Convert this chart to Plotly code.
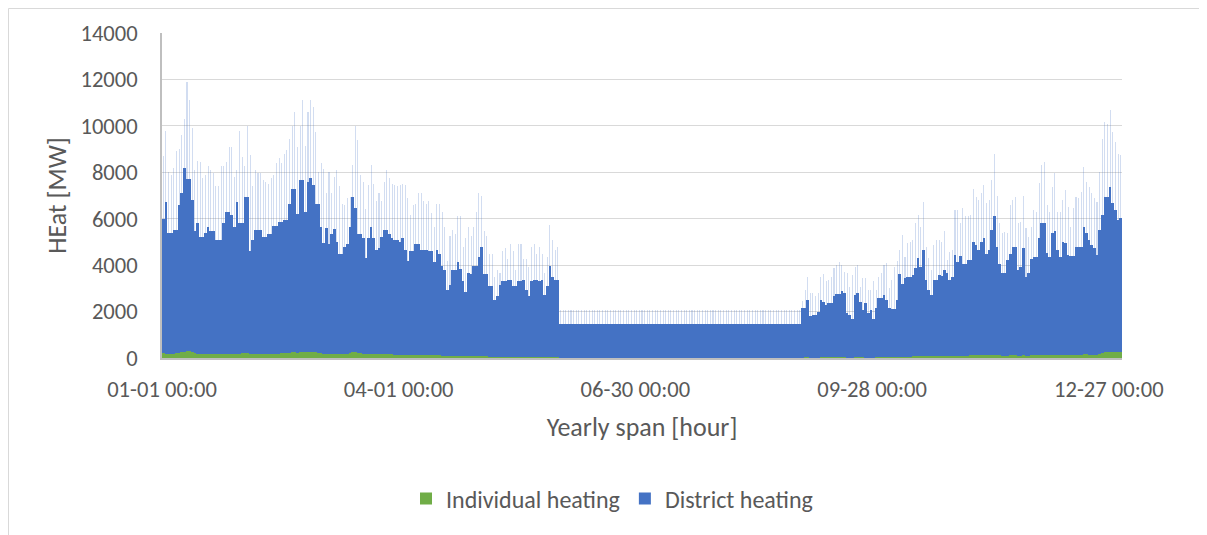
import plotly.graph_objects as go

# ---------------- data (MW, one value per day) ----------------
tick_days = [0, 90, 180, 270, 360]
tick_labels = ["01-01 00:00", "04-01 00:00", "06-30 00:00", "09-28 00:00", "12-27 00:00"]

# top of the stacked columns (individual + district)
stack_top = [
    6000, 6700, 5400, 5400, 5500, 5500, 6600, 7100, 8200, 7700,
    7700, 6800, 5450, 5800, 5200, 5200, 5400, 5650, 5450, 5450,
    5100, 5100, 5100, 5800, 6300, 6300, 6150, 5650, 6700, 5800,
    5800, 6950, 6950, 4600, 5100, 5500, 5500, 5500, 5200, 5200,
    5350, 5350, 5700, 5700, 5850, 5850, 5950, 5950, 6650, 7300,
    7300, 6200, 7650, 7650, 6300, 7600, 7750, 7450, 6650, 6650,
    5650, 4950, 5600, 4900, 5350, 5550, 5000, 4500, 4500, 4800,
    4900, 5650, 6950, 6450, 5350, 5350, 5150, 4300, 5150, 5650,
    5150, 4650, 4750, 5200, 5500, 5500, 5350, 5150, 5100, 5100,
    5000, 5150, 4650, 4200, 4600, 4600, 4900, 4900, 4650, 4650,
    4650, 4600, 4600, 4150, 4650, 4500, 3950, 3800, 2950, 3150,
    3800, 3800, 4150, 3850, 3300, 2850, 3650, 3600, 3950, 3950,
    4350, 4800, 3600, 3600, 3100, 3100, 2500, 2650, 3150, 3300,
    3300, 3350, 3350, 3100, 3100, 3300, 3300, 3350, 2950, 2650,
    3300, 3350, 3350, 3300, 3350, 2700, 3100, 3950, 3500, 3350,
    3350, 1450, 1450, 1450, 1450, 1450, 1450, 1450, 1450, 1450,
    1450, 1450, 1450, 1450, 1450, 1450, 1450, 1450, 1450, 1450,
    1450, 1450, 1450, 1450, 1450, 1450, 1450, 1450, 1450, 1450,
    1450, 1450, 1450, 1450, 1450, 1450, 1450, 1450, 1450, 1450,
    1450, 1450, 1450, 1450, 1450, 1450, 1450, 1450, 1450, 1450,
    1450, 1450, 1450, 1450, 1450, 1450, 1450, 1450, 1450, 1450,
    1450, 1450, 1450, 1450, 1450, 1450, 1450, 1450, 1450, 1450,
    1450, 1450, 1450, 1450, 1450, 1450, 1450, 1450, 1450, 1450,
    1450, 1450, 1450, 1450, 1450, 1450, 1450, 1450, 1450, 1450,
    1450, 1450, 1450, 2150, 2150, 2500, 1800, 1850, 1850, 1980,
    2480, 2400, 2300, 2350, 2350, 2650, 2750, 2750, 2900, 2800,
    1930, 1860, 1680, 2720, 2800, 2400, 2080, 2360, 1930, 2080,
    1680, 2150, 2580, 2580, 2720, 2500, 2150, 2100, 2100, 2500,
    3600, 3200, 3450, 3500, 3500, 3580, 3870, 4300, 3940, 4650,
    3370, 2940, 2720, 3370, 3370, 3580, 3540, 3770, 3650, 3370,
    3500, 4440, 4150, 4400, 4050, 4050, 4230, 4230, 5000, 4870,
    4660, 5000, 5160, 4500, 4660, 5500, 6100, 4800, 4050, 3680,
    3680, 4230, 4500, 4770, 4770, 3800, 3940, 4730, 3480, 3650,
    4250, 4370, 4370, 5160, 5800, 5800, 4540, 4370, 5370, 5490,
    4660, 4370, 5000, 4940, 4440, 4400, 4400, 4770, 4800, 4800,
    5660, 5370, 5090, 4870, 4730, 4440, 5500, 6160, 6950, 6950,
    7380, 6660, 6380, 5950, 6020,
]

# highest hourly value within each day (the pale dashes above the columns)
daily_peak = [
    8700, 9800, 8000, 7900, 8200, 8900, 9000, 9600, 10300, 11900,
    11100, 9900, 8100, 8500, 8450, 7750, 7900, 8250, 8100, 7950,
    7400, 7400, 8250, 8250, 8450, 9100, 9100, 7800, 8100, 9800,
    8650, 8250, 10000, 8750, 7400, 8100, 7950, 7950, 7650, 7600,
    7500, 7750, 7900, 8400, 8600, 8400, 8800, 8950, 9450, 10000,
    10600, 9100, 10000, 11100, 9150, 10600, 11100, 10800, 9750, 8000,
    8400, 8150, 7100, 8000, 7100, 7800, 8100, 7400, 6650, 6600,
    6900, 6950, 8300, 10000, 9400, 7900, 7600, 6400, 7450, 8300,
    7500, 6750, 7100, 6750, 7600, 8100, 7750, 7500, 7450, 7400,
    7450, 7500, 7450, 6900, 6150, 6600, 6650, 7100, 7100, 6750,
    6650, 6750, 6250, 5650, 6650, 6650, 6300, 5650, 4200, 5250,
    5500, 5350, 6100, 6100, 4800, 5150, 5650, 5250, 5650, 6300,
    7100, 7000, 5450, 5250, 4500, 4500, 3500, 3800, 3650, 4600,
    4750, 4250, 4900, 4600, 3800, 4900, 4900, 4250, 4250, 3900,
    4800, 4900, 4500, 4800, 4500, 3650, 4350, 5750, 5100, 4650,
    4800, 2080, 2080, 2080, 2080, 2080, 2080, 2080, 2080, 2080,
    2080, 2080, 2080, 2080, 2080, 2080, 2080, 2080, 2080, 2080,
    2080, 2080, 2080, 2080, 2080, 2080, 2080, 2080, 2080, 2080,
    2080, 2080, 2080, 2080, 2080, 2080, 2080, 2080, 2080, 2080,
    2080, 2080, 2080, 2080, 2080, 2080, 2080, 2080, 2080, 2080,
    2080, 2080, 2080, 2080, 2080, 2080, 2080, 2080, 2080, 2080,
    2080, 2080, 2080, 2080, 2080, 2080, 2080, 2080, 2080, 2080,
    2080, 2080, 2080, 2080, 2080, 2080, 2080, 2080, 2080, 2080,
    2080, 2080, 2080, 2080, 2080, 2080, 2080, 2080, 2080, 2080,
    2080, 2080, 2080, 2450, 2950, 3500, 2800, 2800, 2650, 2800,
    3500, 3600, 3300, 3350, 3500, 3870, 4000, 4150, 4000, 3720,
    3650, 3080, 3580, 3940, 4000, 3080, 3440, 3440, 2940, 2940,
    3300, 2940, 3500, 3650, 4000, 4080, 3000, 3370, 3940, 4200,
    4650, 5300, 4370, 4940, 5000, 5100, 5800, 6160, 5660, 6730,
    4800, 4300, 3800, 4870, 5100, 5100, 5000, 5450, 4230, 4580,
    4650, 6380, 6380, 5800, 6450, 6100, 6100, 6160, 7300, 6950,
    6800, 7100, 7450, 6660, 6800, 7660, 8800, 7000, 5800, 5370,
    5440, 5370, 6600, 6800, 6950, 5800, 5870, 7000, 5590, 5230,
    5660, 6380, 6300, 7520, 8310, 8450, 6600, 6300, 7380, 7950,
    6300, 6300, 6800, 7230, 6520, 5660, 6450, 6950, 6880, 7160,
    8240, 7600, 7380, 7100, 6880, 6730, 8000, 9450, 10170, 10100,
    10670, 9740, 9300, 8800, 8740,
]

individual_heating = [
    200, 190, 180, 180, 190, 200, 220, 240, 280, 300,
    290, 250, 210, 190, 180, 180, 190, 190, 180, 170,
    170, 170, 180, 190, 190, 190, 180, 190, 180, 180,
    200, 210, 200, 170, 180, 180, 180, 180, 180, 180,
    190, 190, 190, 190, 190, 200, 200, 210, 220, 240,
    250, 230, 260, 260, 250, 260, 270, 260, 240, 220,
    200, 190, 190, 180, 180, 170, 160, 160, 160, 170,
    180, 200, 250, 240, 220, 200, 180, 160, 170, 180,
    170, 160, 160, 170, 170, 170, 160, 160, 150, 150,
    150, 150, 140, 130, 130, 130, 130, 130, 130, 130,
    130, 130, 120, 110, 110, 110, 100, 100, 90, 90,
    100, 100, 100, 100, 90, 80, 90, 90, 90, 90,
    90, 80, 80, 70, 60, 60, 50, 50, 50, 50,
    60, 60, 60, 50, 50, 50, 50, 50, 50, 40,
    40, 40, 40, 40, 40, 40, 40, 50, 50, 40,
    40, 0, 0, 0, 0, 0, 0, 0, 0, 0,
    0, 0, 0, 0, 0, 0, 0, 0, 0, 0,
    0, 0, 0, 0, 0, 0, 0, 0, 0, 0,
    0, 0, 0, 0, 0, 0, 0, 0, 0, 0,
    0, 0, 0, 0, 0, 0, 0, 0, 0, 0,
    0, 0, 0, 0, 0, 0, 0, 0, 0, 0,
    0, 0, 0, 0, 0, 0, 0, 0, 0, 0,
    0, 0, 0, 0, 0, 0, 0, 0, 0, 0,
    0, 0, 0, 0, 0, 0, 0, 0, 0, 0,
    0, 0, 0, 20, 30, 30, 20, 20, 20, 20,
    30, 30, 30, 30, 30, 30, 30, 30, 30, 30,
    20, 20, 20, 30, 30, 30, 30, 20, 20, 20,
    20, 30, 30, 30, 30, 30, 30, 30, 30, 40,
    50, 50, 60, 60, 60, 70, 70, 80, 80, 90,
    80, 70, 70, 70, 80, 80, 80, 80, 70, 70,
    70, 90, 90, 90, 100, 100, 100, 110, 110, 110,
    110, 110, 110, 110, 120, 120, 130, 130, 110, 100,
    100, 100, 110, 110, 110, 100, 100, 110, 100, 100,
    110, 110, 120, 130, 150, 150, 140, 130, 140, 150,
    140, 140, 130, 130, 130, 130, 130, 140, 140, 140,
    160, 160, 150, 150, 150, 150, 170, 200, 240, 260,
    280, 280, 270, 250, 240,
]

assert len(stack_top) == len(daily_peak) == len(individual_heating) == 365

district_heating = [t - i for t, i in zip(stack_top, individual_heating)]
peak_extra = [max(p - t, 0) for p, t in zip(daily_peak, stack_top)]
day_pos = [d + 0.5 for d in range(len(stack_top))]

# ---------------- figure ----------------
FONT = "Calibri, Carlito, Lato, sans-serif"
TXT = "#595959"
BLUE = "#4472C4"
GREEN = "#70AD47"

fig = go.Figure()
fig.add_trace(go.Bar(x=day_pos, y=individual_heating, width=1.0, name="Individual heating",
                     marker=dict(color=GREEN, line=dict(width=0))))
fig.add_trace(go.Bar(x=day_pos, y=district_heating, width=1.0, name="District heating",
                     marker=dict(color=BLUE, line=dict(width=0))))
fig.add_trace(go.Bar(x=day_pos, y=peak_extra, width=0.4, name="District heating peaks",
                     showlegend=False,
                     marker=dict(color="rgba(68,114,196,0.24)", line=dict(width=0))))

# page body has an 8px margin, so the figure is drawn 8px in from the window corner
OFF = 8
W, H = 1207 - OFF, 535 - OFF
L, R, T, B = 162 - OFF, 85, 33 - OFF, 177
pw, ph = W - L - R, H - T - B

def px_x(sx):
    return (sx - OFF - L) / pw

def px_y(sy):
    return (H - B - (sy - OFF)) / ph

fig.update_layout(
    width=W, height=H,
    margin=dict(l=L, r=R, t=T, b=B, autoexpand=False),
    barmode="stack", bargap=0,
    paper_bgcolor="white", plot_bgcolor="white",
    font=dict(family=FONT, color=TXT, size=22),
    showlegend=True,
    legend=dict(orientation="h", x=px_x(612), y=px_y(499), xanchor="center", yanchor="middle",
                font=dict(size=24, color=TXT), traceorder="normal", itemwidth=30,
                bgcolor="rgba(0,0,0,0)"),
    xaxis=dict(range=[0, 365], tickmode="array", tickvals=tick_days, ticktext=tick_labels,
               showgrid=False, zeroline=False, showline=True, linecolor="#bfbfbf", linewidth=1.5,
               ticks="", ticklabelstandoff=10, tickfont=dict(size=22.6, color=TXT),
               title=dict(text="Yearly span [hour]", font=dict(size=26, color=TXT), standoff=16)),
    yaxis=dict(range=[0, 14000], dtick=2000, tickformat="d",
               showgrid=True, gridcolor="#d9d9d9", gridwidth=1.3, zeroline=False,
               showline=True, linecolor="#bfbfbf", linewidth=1.5,
               ticks="", ticklabelstandoff=18, tickfont=dict(size=22.6, color=TXT),
               title=dict(text="HEat [MW]", font=dict(size=26, color=TXT), standoff=6)),
    shapes=[
        dict(type="line", xref="paper", yref="paper", x0=(0.5 - L) / pw, x1=(0.5 - L) / pw,
             y0=(H - B - H) / ph, y1=(H - B - 0.5) / ph, line=dict(color="#d9d9d9", width=1)),
        dict(type="line", xref="paper", yref="paper", x0=(0.5 - L) / pw, x1=(W - L) / pw,
             y0=(H - B - 0.5) / ph, y1=(H - B - 0.5) / ph, line=dict(color="#d9d9d9", width=1)),
    ],
)

fig.write_html("out.html")
